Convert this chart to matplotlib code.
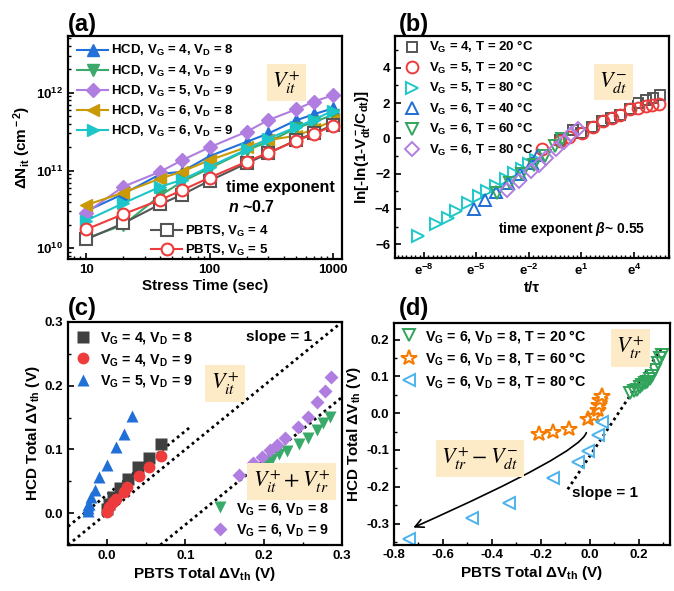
import numpy as np
import matplotlib
matplotlib.use('Agg')
import matplotlib.pyplot as plt
from matplotlib.ticker import FixedLocator, MultipleLocator, LogLocator, NullFormatter, FuncFormatter

# ---------------- data ----------------
# (a) interface trap density vs stress time
stress_time = [10, 20, 40, 60, 100, 200, 300, 500, 700, 1000]
hcd_vg4_vd8 = [3.0e10, 5.0e10, 9.0e10, 9.7e10, 1.53e11, 2.34e11, 3.0e11, 4.4e11, 5.3e11, 6.3e11]
hcd_vg4_vd9 = [1.34e10, 2.0e10, 4.8e10, 7.2e10, 1.07e11, 1.83e11, 2.34e11, 3.5e11, 4.2e11, 5.2e11]
hcd_vg5_vd9 = [2.87e10, 6.2e10, 9.7e10, 1.36e11, 1.99e11, 3.16e11, 4.46e11, 6.1e11, 7.7e11, 9.3e11]
hcd_vg6_vd8 = [3.6e10, 5.2e10, 7.9e10, 9.7e10, 1.36e11, 2.0e11, 2.46e11, 2.8e11, 3.4e11, 4.4e11]
hcd_vg6_vd9 = [2.27e10, 3.8e10, 6.2e10, 7.6e10, 1.12e11, 1.87e11, 2.58e11, 3.6e11, 4.5e11, 5.9e11]
pbts_vg4 = [1.3e10, 2.1e10, 3.7e10, 4.9e10, 7.4e10, 1.24e11, 1.66e11, 2.46e11, 3.0e11, 3.85e11]
pbts_vg5 = [1.75e10, 2.75e10, 4.2e10, 5.6e10, 8.1e10, 1.3e11, 1.7e11, 2.4e11, 2.95e11, 3.75e11]

# (b) ln(t/tau) and ln[-ln(1-V/C)]
b_vg4_20_x = [-0.2, 0.5, 1.0, 1.6, 2.2, 2.7, 3.2, 3.8, 4.23, 4.71, 5.09, 5.5]
b_vg4_20_y = [-0.1, 0.47, 0.3, 0.66, 0.98, 1.17, 1.32, 1.66, 1.98, 2.17, 2.30, 2.45]
b_vg5_20_x = [-1.24, -0.22, 0.3, 1.02, 1.64, 2.24, 2.72, 3.19, 3.80, 4.23, 4.67, 5.05, 5.43]
b_vg5_20_y = [-0.59, -0.15, 0.1, 0.28, 0.66, 0.98, 1.17, 1.30, 1.64, 1.74, 1.83, 1.87, 1.93]
b_vg5_80_x = [-8.34, -7.30, -6.64, -6.16, -5.50, -4.84, -4.40, -3.89, -3.32, -2.85, -2.37, -1.99, -1.61]
b_vg5_80_y = [-5.53, -4.83, -4.49, -4.12, -3.64, -3.27, -3.00, -2.70, -2.32, -1.98, -1.71, -1.47, -1.24]
b_vg6_40_x = [-5.14, -4.53, -3.9, -3.2, -2.5, -1.8, -1.5]
b_vg6_40_y = [-3.98, -3.49, -3.05, -2.55, -2.0, -1.4, -0.95]
b_vg6_60_x = [-3.85, -3.1, -2.4, -1.7, -1.1, -0.5, -0.1]
b_vg6_60_y = [-3.12, -2.55, -2.0, -1.5, -1.0, -0.45, -0.05]
b_vg6_80_x = [-3.23, -2.56, -1.90, -1.42, -1.04, -0.47, 0.0, 0.42, 0.80]
b_vg6_80_y = [-2.95, -2.42, -1.85, -1.51, -1.10, -0.62, -0.21, 0.23, 0.55]
b_xticks = [-8, -5, -2, 1, 4]

# (c) HCD vs PBTS total dVth
c_vg4_vd8_x = [0.0, 0.002, 0.008, 0.017, 0.027, 0.039, 0.053, 0.069]
c_vg4_vd8_y = [0.007, 0.015, 0.025, 0.039, 0.054, 0.072, 0.086, 0.108]
c_vg4_vd9_x = [0.0, 0.003, 0.008, 0.011, 0.021, 0.026, 0.041, 0.054, 0.069]
c_vg4_vd9_y = [0.002, 0.009, 0.017, 0.022, 0.033, 0.041, 0.058, 0.072, 0.090]
c_vg5_vd9_x = [-0.024, -0.024, -0.024, -0.023, -0.021, -0.016, -0.010, 0.0004, 0.0115, 0.021, 0.0315]
c_vg5_vd9_y = [0.003, 0.008, 0.012, 0.015, 0.025, 0.037, 0.056, 0.075, 0.104, 0.125, 0.152]
c_vg6_vd8_x = [0.19, 0.200, 0.206, 0.210, 0.219, 0.2295, 0.2456, 0.257, 0.268, 0.276, 0.285]
c_vg6_vd8_y = [0.068, 0.078, 0.080, 0.0857, 0.0935, 0.097, 0.109, 0.118, 0.130, 0.141, 0.151]
c_vg6_vd9_x = [0.169, 0.186, 0.198, 0.208, 0.217, 0.227, 0.244, 0.256, 0.268, 0.278, 0.2857]
c_vg6_vd9_y = [0.0604, 0.078, 0.088, 0.0987, 0.1066, 0.118, 0.135, 0.151, 0.174, 0.192, 0.214]
c_slope1_xranges = [(-0.05, 0.105), (-0.05, 0.30), (0.068, 0.30)]
c_slope1_offsets = [0.029, 0.0, -0.118]

# (d)
d_t20_x = [0.165, 0.18, 0.192, 0.205, 0.212, 0.225, 0.233, 0.245, 0.253, 0.267, 0.28, 0.287, 0.295]
d_t20_y = [0.054, 0.06, 0.063, 0.072, 0.077, 0.082, 0.086, 0.092, 0.100, 0.118, 0.136, 0.150, 0.158]
d_t60_x = [-0.208, -0.150, -0.086, -0.008, 0.016, 0.033, 0.039, 0.043, 0.050]
d_t60_y = [-0.056, -0.050, -0.044, -0.016, -0.007, 0.009, 0.023, 0.036, 0.047]
d_t80_x = [-0.74, -0.482, -0.332, -0.149, -0.0465, -0.0057, 0.035, 0.049]
d_t80_y = [-0.3425, -0.286, -0.2436, -0.177, -0.132, -0.1027, -0.059, -0.0228]
d_slope1_xrange = (-0.09, 0.30)
d_slope1_offset = -0.117
d_arrow_start = (-0.014, -0.053)
d_arrow_end = (-0.721, -0.311)

# ---------------- style ----------------
plt.rcParams.update({
    'font.family': ['Liberation Sans', 'DejaVu Sans'],
    'font.weight': 'normal',
    'axes.labelweight': 'bold',
    'mathtext.fontset': 'custom',
    'mathtext.rm': 'Liberation Sans:bold',
    'mathtext.it': 'Liberation Sans:italic:bold',
    'mathtext.bf': 'Liberation Sans:bold',
    'mathtext.sf': 'Liberation Sans:bold',
    'axes.linewidth': 1.6,
    'xtick.direction': 'in', 'ytick.direction': 'in',
    'xtick.major.size': 4, 'ytick.major.size': 4,
    'xtick.minor.size': 2, 'ytick.minor.size': 2,
    'xtick.major.width': 1.2, 'ytick.major.width': 1.2,
    'xtick.minor.width': 1.0, 'ytick.minor.width': 1.0,
    'xtick.labelsize': 9.5, 'ytick.labelsize': 9.5,
    'axes.labelsize': 11,
})
LEGPROP = {'weight': 'bold', 'size': 9.5}
LEGPROP_CD = {'weight': 'bold', 'size': 10.3}

W, H = 674, 591
fig = plt.figure(figsize=(W / 100, H / 100), dpi=100)


def px_axes(l, t, r, b):
    return fig.add_axes([l / W, 1 - b / H, (r - l) / W, (b - t) / H])


def bold_ticks(ax):
    for lab in ax.get_xticklabels() + ax.get_yticklabels():
        lab.set_fontweight('bold')


BOX = dict(boxstyle='square,pad=0.25', fc='#fdeac6', ec='none')
MATHBOX = dict(math_fontfamily='stix', fontsize=16, fontweight='normal')

# ---------------- (a) ----------------
axa = px_axes(68, 36, 342, 259)
axa.set_xscale('log'); axa.set_yscale('log')
series_a = [
    (hcd_vg4_vd8, '#2270d9', '^', 'HCD, V$_{\\rm G}$ = 4, V$_{\\rm D}$ = 8'),
    (hcd_vg4_vd9, '#3aa96b', 'v', 'HCD, V$_{\\rm G}$ = 4, V$_{\\rm D}$ = 9'),
    (hcd_vg5_vd9, '#b07ee0', 'D', 'HCD, V$_{\\rm G}$ = 5, V$_{\\rm D}$ = 9'),
    (hcd_vg6_vd8, '#c99a06', '<', 'HCD, V$_{\\rm G}$ = 6, V$_{\\rm D}$ = 8'),
    (hcd_vg6_vd9, '#1cc6c8', '>', 'HCD, V$_{\\rm G}$ = 6, V$_{\\rm D}$ = 9'),
]
ha = []
for ys, c, m, lab in series_a:
    ms = 7 if m == 'D' else 8.5
    h, = axa.plot(stress_time, ys, color=c, marker=m, ms=ms, lw=1.5, label=lab)
    ha.append(h)
hp = []
for ys, c, m, lab in [(pbts_vg4, '#555555', 's', 'PBTS, V$_{\\rm G}$ = 4'),
                      (pbts_vg5, '#ee3b3b', 'o', 'PBTS, V$_{\\rm G}$ = 5')]:
    h, = axa.plot(stress_time, ys, color=c, marker=m, ms=8.5, lw=1.5, mfc='white', mew=1.5, label=lab)
    hp.append(h)
axa.set_xlim(7.14, 1182)
axa.set_ylim(7.3e9, 5.36e12)
axa.set_xticks([10, 100, 1000])
axa.xaxis.set_major_formatter(FuncFormatter(lambda v, p: '%d' % v))
axa.yaxis.set_major_locator(FixedLocator([1e10, 1e11, 1e12]))
axa.yaxis.set_major_formatter(FuncFormatter(lambda v, p: '10$^{%d}$' % round(np.log10(v))))
axa.xaxis.set_minor_locator(LogLocator(subs=np.arange(2, 10)))
axa.yaxis.set_minor_locator(LogLocator(subs=np.arange(2, 10)))
axa.xaxis.set_minor_formatter(NullFormatter()); axa.yaxis.set_minor_formatter(NullFormatter())
axa.set_xlabel('Stress Time (sec)', labelpad=2)
axa.set_ylabel('ΔN$_{\\rm it}$ (cm$^{\\rm -2}$)', labelpad=2)
leg1 = axa.legend(handles=ha, loc='upper left', bbox_to_anchor=(0.033, 0.967), frameon=False, prop=LEGPROP,
                  borderpad=0, borderaxespad=0, handlelength=2.35, handletextpad=0.2, labelspacing=0.38)
axa.add_artist(leg1)
axa.legend(handles=hp, loc='upper left', bbox_to_anchor=(0.303, 0.158), frameon=False, prop=LEGPROP,
           borderpad=0, borderaxespad=0, handlelength=2.35, handletextpad=0.2, labelspacing=0.28)
axa.text(0.796, 0.791, '$V_{it}^{+}$', transform=axa.transAxes, ha='center', va='center', bbox=BOX, **MATHBOX)
axa.text(0.774, 0.320, 'time exponent', transform=axa.transAxes, ha='center', va='center',
         fontsize=11.5, fontweight='bold')
axa.text(0.670, 0.234, '$\\mathit{n}$ ~0.7', transform=axa.transAxes, ha='center', va='center',
         fontsize=11.5, fontweight='bold')
fig.text(68 / W, 1 - 24 / H, '(a)', fontsize=17, ha='left', va='center', fontweight='bold')
bold_ticks(axa)

# ---------------- (b) ----------------
axb = px_axes(395, 36, 669, 258)
series_b = [
    (b_vg4_20_x, b_vg4_20_y, '#555555', 's', 'V$_{\\rm G}$ = 4, T = 20 °C'),
    (b_vg5_20_x, b_vg5_20_y, '#ee3b3b', 'o', 'V$_{\\rm G}$ = 5, T = 20 °C'),
    (b_vg5_80_x, b_vg5_80_y, '#1ec8c8', '>', 'V$_{\\rm G}$ = 5, T = 80 °C'),
    (b_vg6_40_x, b_vg6_40_y, '#1f6fd6', '^', 'V$_{\\rm G}$ = 6, T = 40 °C'),
    (b_vg6_60_x, b_vg6_60_y, '#33a65d', 'v', 'V$_{\\rm G}$ = 6, T = 60 °C'),
    (b_vg6_80_x, b_vg6_80_y, '#b07ee0', 'D', 'V$_{\\rm G}$ = 6, T = 80 °C'),
]
for xs, ys, c, m, lab in series_b:
    ms = 7 if m in ('s', 'D') else 8.5
    axb.plot(xs, ys, ls='none', marker=m, ms=ms, mfc='none', mec=c, mew=1.4, label=lab)
axb.set_xlim(-9.65, 6.0)
axb.set_ylim(-6.78, 5.8)
axb.set_xticks(b_xticks)
axb.set_xticklabels(['e$^{%d}$' % v for v in b_xticks])
axb.xaxis.set_minor_locator(MultipleLocator(0.25))
axb.yaxis.set_major_locator(MultipleLocator(2))
axb.yaxis.set_minor_locator(MultipleLocator(1))
axb.set_xlabel('t/τ', labelpad=2)
axb.set_ylabel('ln[-ln(1-V$^{\\rm -}_{\\rm dt}$/C$_{\\rm dt}$)]', labelpad=2)
axb.legend(loc='upper left', bbox_to_anchor=(0.036, 0.985), frameon=False, borderpad=0, borderaxespad=0,
           prop=LEGPROP, handlelength=1.05, handletextpad=0.75, labelspacing=0.33)
axb.text(0.797, 0.791, '$V_{dt}^{-}$', transform=axb.transAxes, ha='center', va='center', bbox=BOX, **MATHBOX)
axb.text(0.646, 0.131, 'time exponent $\\mathit{\\beta}$~ 0.55', transform=axb.transAxes,
         ha='center', va='center', fontsize=10, fontweight='bold')
fig.text(399 / W, 1 - 24 / H, '(b)', fontsize=17, ha='left', va='center', fontweight='bold')
bold_ticks(axb)

# ---------------- (c) ----------------
axc = px_axes(68, 322, 342, 545)
for (x0, x1), off in zip(c_slope1_xranges, c_slope1_offsets):
    xs = np.array([x0, x1])
    axc.plot(xs, xs + off, color='black', ls=(0, (1, 1.3)), lw=2.0)
hc1 = []
for xs, ys, c, m, lab in [
        (c_vg4_vd8_x, c_vg4_vd8_y, '#404040', 's', 'V$_{\\rm G}$ = 4, V$_{\\rm D}$ = 8'),
        (c_vg4_vd9_x, c_vg4_vd9_y, '#ee3b3b', 'o', 'V$_{\\rm G}$ = 4, V$_{\\rm D}$ = 9'),
        (c_vg5_vd9_x, c_vg5_vd9_y, '#2170d8', '^', 'V$_{\\rm G}$ = 5, V$_{\\rm D}$ = 9')]:
    h, = axc.plot(xs, ys, ls='none', marker=m, ms=8.5, color=c, mec='none', label=lab)
    hc1.append(h)
hc2 = []
for xs, ys, c, m, lab in [
        (c_vg6_vd8_x, c_vg6_vd8_y, '#3aaa6a', 'v', 'V$_{\\rm G}$ = 6, V$_{\\rm D}$ = 8'),
        (c_vg6_vd9_x, c_vg6_vd9_y, '#b07ee0', 'D', 'V$_{\\rm G}$ = 6, V$_{\\rm D}$ = 9')]:
    h, = axc.plot(xs, ys, ls='none', marker=m, ms=9 if m == 'v' else 7.5, color=c, mec='none', label=lab)
    hc2.append(h)
axc.set_xlim(-0.05, 0.3)
axc.set_ylim(-0.05, 0.3)
axc.xaxis.set_major_locator(MultipleLocator(0.1)); axc.xaxis.set_minor_locator(MultipleLocator(0.05))
axc.yaxis.set_major_locator(MultipleLocator(0.1)); axc.yaxis.set_minor_locator(MultipleLocator(0.05))
axc.xaxis.set_major_formatter(FuncFormatter(lambda v, p: '%.1f' % v))
axc.yaxis.set_major_formatter(FuncFormatter(lambda v, p: '%.1f' % v))
axc.set_xlabel('PBTS Total ΔV$_{\\rm th}$ (V)', labelpad=2)
axc.set_ylabel('HCD Total ΔV$_{\\rm th}$ (V)', labelpad=2)
l1 = axc.legend(handles=hc1, loc='upper left', bbox_to_anchor=(0.029, 0.962), frameon=False, borderpad=0,
                prop=LEGPROP_CD, borderaxespad=0, handlelength=1.0, handletextpad=0.65, labelspacing=0.38)
axc.add_artist(l1)
axc.legend(handles=hc2, loc='upper left', bbox_to_anchor=(0.528, 0.198), frameon=False, borderpad=0,
           prop=LEGPROP_CD, borderaxespad=0, handlelength=1.0, handletextpad=0.65, labelspacing=0.38)
axc.text(0.770, 0.934, 'slope = 1', transform=axc.transAxes, ha='center', va='center',
         fontsize=11, fontweight='bold')
axc.text(0.573, 0.724, '$V_{it}^{+}$', transform=axc.transAxes, ha='center', va='center', bbox=BOX, **MATHBOX)
axc.text(0.816, 0.285, '$V_{it}^{+} + V_{tr}^{+}$', transform=axc.transAxes, ha='center', va='center',
         bbox=BOX, **MATHBOX)
fig.text(68 / W, 1 - 308 / H, '(c)', fontsize=17, ha='left', va='center', fontweight='bold')
bold_ticks(axc)

# ---------------- (d) ----------------
axd = px_axes(394, 323, 670, 544.5)
xs = np.array(d_slope1_xrange)
axd.plot(xs, xs + d_slope1_offset, color='black', ls=(0, (1, 1.3)), lw=2.0)
axd.plot(d_t20_x, d_t20_y, ls='none', marker='v', ms=8.5, mfc='none', mec='#2fa45a', mew=1.4,
         label='V$_{\\rm G}$ = 6, V$_{\\rm D}$ = 8, T = 20 °C')
axd.plot(d_t60_x, d_t60_y, ls='none', marker='*', ms=11.5, mfc='white', mec='#f57c00', mew=1.5,
         label='V$_{\\rm G}$ = 6, V$_{\\rm D}$ = 8, T = 60 °C')
axd.plot(d_t80_x, d_t80_y, ls='none', marker='<', ms=8.5, mfc='none', mec='#4db3ee', mew=1.4,
         label='V$_{\\rm G}$ = 6, V$_{\\rm D}$ = 8, T = 80 °C')
axd.set_xlim(-0.8, 0.328)
axd.set_ylim(-0.357, 0.245)
axd.xaxis.set_major_locator(MultipleLocator(0.2)); axd.xaxis.set_minor_locator(MultipleLocator(0.1))
axd.yaxis.set_major_locator(MultipleLocator(0.1)); axd.yaxis.set_minor_locator(MultipleLocator(0.05))
axd.xaxis.set_major_formatter(FuncFormatter(lambda v, p: '%.1f' % v))
axd.yaxis.set_major_formatter(FuncFormatter(lambda v, p: '%.1f' % v))
axd.set_xlabel('PBTS Total ΔV$_{\\rm th}$ (V)', labelpad=2)
axd.set_ylabel('HCD Total ΔV$_{\\rm th}$ (V)', labelpad=2)
axd.legend(loc='upper left', bbox_to_anchor=(0.027, 0.978), frameon=False, borderpad=0, borderaxespad=0,
           prop=LEGPROP_CD, handlelength=1.0, handletextpad=0.65, labelspacing=0.38)
axd.annotate('', xy=d_arrow_end, xytext=d_arrow_start,
             arrowprops=dict(arrowstyle='->,head_length=0.6,head_width=0.3', color='black', lw=1.2,
                             shrinkA=0, shrinkB=0, connectionstyle='angle3,angleA=-107,angleB=24'))
axd.text(0.856, 0.886, '$V_{tr}^{+}$', transform=axd.transAxes, ha='center', va='center', bbox=BOX, **MATHBOX)
axd.text(0.311, 0.388, '$V_{tr}^{+} - V_{dt}^{-}$', transform=axd.transAxes, ha='center', va='center',
         bbox=BOX, **MATHBOX)
axd.text(0.763, 0.234, 'slope = 1', transform=axd.transAxes, ha='center', va='center',
         fontsize=11, fontweight='bold')
fig.text(399 / W, 1 - 308 / H, '(d)', fontsize=17, ha='left', va='center', fontweight='bold')
bold_ticks(axd)

fig.savefig('out.png', dpi=100)
